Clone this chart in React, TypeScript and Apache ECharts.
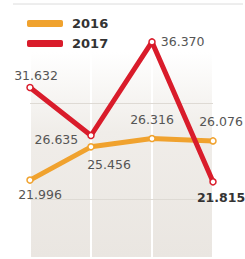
import React, { useEffect, useRef } from "react";
import * as echarts from "echarts";

const categories = ["1", "2", "3", "4"];
const values2016 = [21.996, 25.456, 26.316, 26.076];
const values2017 = [31.632, 26.635, 36.37, 21.815];
const gridValues = [20, 30];

const pos2016 = [
  { position: "bottom", offset: [10, -1] },
  { position: "bottom", offset: [18, 2] },
  { position: "top", offset: [0, -4] },
  { position: "top", offset: [8, -4] },
];
const pos2017 = [
  { position: "top", offset: [6, 3] },
  { position: "left", offset: [-4, 4] },
  { position: "right", offset: [0, 0] },
  { position: "bottom", offset: [8, 0] },
];

export default function App() {
  const ref = useRef<HTMLDivElement>(null);
  useEffect(() => {
    if (!ref.current) return;
    const chart = echarts.init(ref.current, null, { renderer: "svg" });
    const labelBase = {
      show: true,
      fontFamily: "DejaVu Sans",
      fontSize: 12.5,
      color: "#555",
      formatter: (p: any) => Number(p.value).toFixed(3),
    };
    const c16 = "#f0a22e";
    const c17 = "#d91c2b";
    chart.setOption({
      animation: false,
      backgroundColor: "#fff",
      textStyle: { fontFamily: "DejaVu Sans" },
      grid: {
        left: 30,
        right: 32,
        top: 7,
        bottom: 2,
        show: true,
        borderWidth: 0,
        backgroundColor: new echarts.graphic.LinearGradient(0, 0, 0, 1, [
          { offset: 0, color: "#ffffff" },
          { offset: 0.18, color: "#ffffff" },
          { offset: 0.5, color: "#f0ede9" },
          { offset: 1, color: "#eae6e1" },
        ]),
      },
      legend: {
        orient: "vertical",
        left: 22,
        top: 12,
        itemWidth: 36,
        itemHeight: 7,
        itemGap: 7,
        icon: "roundRect",
        textStyle: {
          fontFamily: "DejaVu Sans",
          fontSize: 13,
          fontWeight: "bold",
          color: "#333",
          padding: [0, 0, 0, 4],
        },
        data: [
          { name: "2016", itemStyle: { color: c16, borderWidth: 0 } },
          { name: "2017", itemStyle: { color: c17, borderWidth: 0 } },
        ],
      },
      graphic: [
        {
          type: "line",
          shape: { x1: 13, y1: 4, x2: 243, y2: 4 },
          style: { stroke: "#dcdcdc", lineWidth: 1 },
        },
      ],
      xAxis: {
        type: "category",
        data: categories,
        boundaryGap: false,
        axisLine: { show: false },
        axisTick: { show: false },
        axisLabel: { show: false },
        splitLine: { show: true, lineStyle: { color: "#ffffff", width: 2 } },
      },
      yAxis: {
        type: "value",
        min: 14,
        max: 40,
        axisLine: { show: false },
        axisTick: { show: false },
        axisLabel: { show: false },
        splitLine: { show: false },
      },
      series: [
        {
          name: "2016",
          type: "line",
          color: c16,
          lineStyle: { width: 5, color: c16 },
          symbol: "circle",
          symbolSize: 6,
          itemStyle: { color: "#ffffff", borderColor: c16, borderWidth: 1.5 },
          z: 3,
          data: values2016.map((v, i) => ({
            value: v,
            label: { ...labelBase, ...pos2016[i] },
          })),
          markLine: {
            silent: true,
            symbol: "none",
            label: { show: false },
            lineStyle: { type: "solid", width: 1, color: "#dedad4" },
            data: gridValues.map((g) => ({ yAxis: g })),
            z: 1,
          },
        },
        {
          name: "2017",
          type: "line",
          color: c17,
          lineStyle: { width: 5, color: c17 },
          symbol: "circle",
          symbolSize: 6,
          itemStyle: { color: "#ffffff", borderColor: c17, borderWidth: 1.5 },
          z: 4,
          data: values2017.map((v, i) => ({
            value: v,
            label: {
              ...labelBase,
              ...pos2017[i],
              ...(i === 3 ? { fontWeight: "bold", color: "#333" } : {}),
            },
          })),
        },
      ],
    });
    return () => chart.dispose();
  }, []);
  return <div ref={ref} style={{ width: 245, height: 259, position: "fixed", left: 0, top: 0 }} />;
}
